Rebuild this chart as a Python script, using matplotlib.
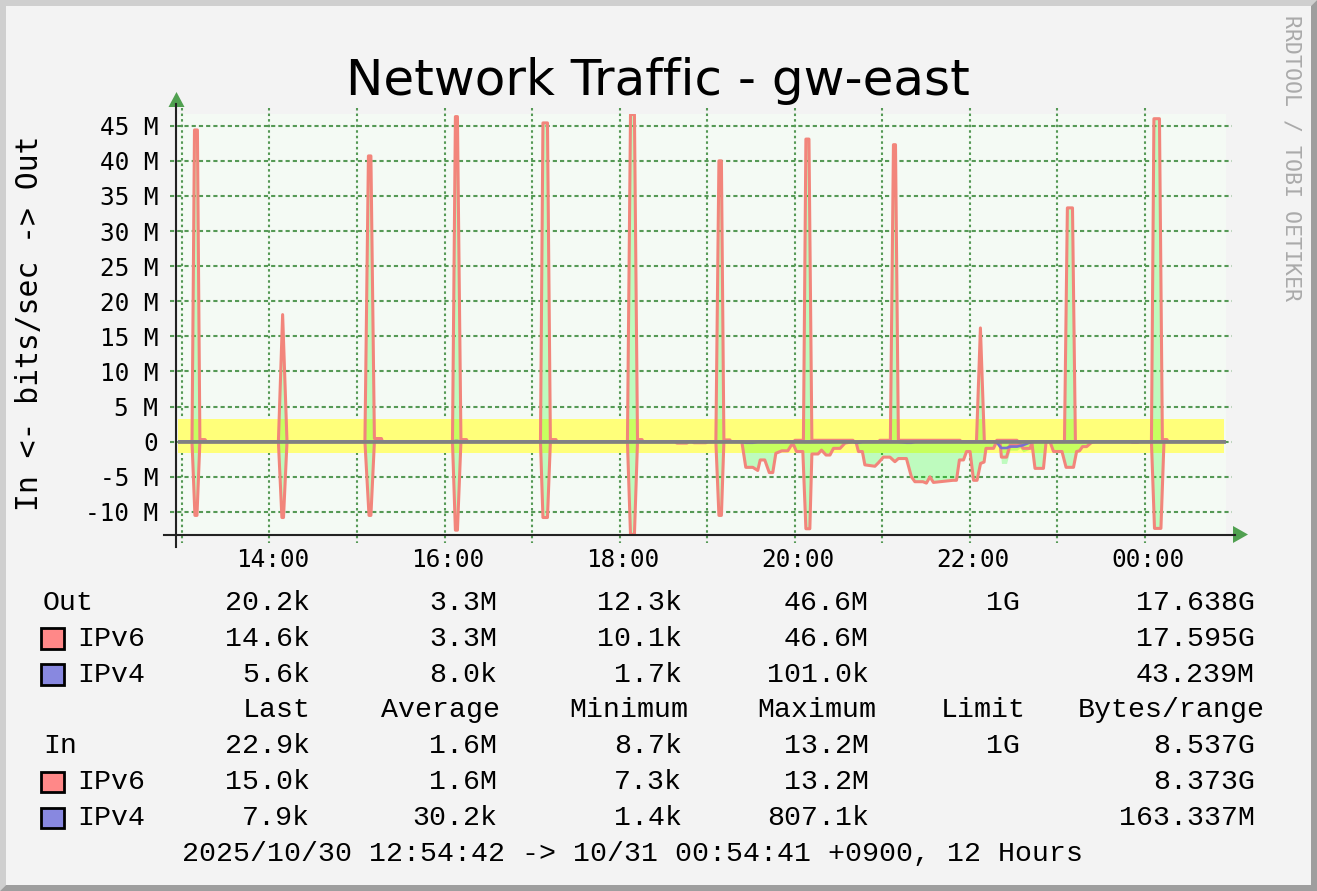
import numpy as np
import matplotlib
matplotlib.use("Agg")
import matplotlib.pyplot as plt
from matplotlib.patches import Polygon, Rectangle
from matplotlib.lines import Line2D
from matplotlib.transforms import ScaledTranslation

W, H = 1317, 891

# time in minutes after 12:00 (10/30), traffic in Mbit/s
out_t = [57.3, 66.9, 68.6, 70.6, 72.3, 75.8, 76.8,
         126.1, 129.0, 132.0,
         185.4, 187.8, 189.5, 191.9, 196.7, 197.4,
         245.4, 247.4, 248.8, 251.2, 255.0, 255.7,
         305.7, 307.4, 310.5, 312.5, 316.3, 317.0,
         365.3, 367.4, 370.1, 372.2, 375.3, 375.9,
         425.9, 428.0, 429.7, 431.4, 435.5, 436.2,
         479.4, 480.1, 485.9, 487.6, 489.7, 491.7, 519.8, 520.5,
         537.6, 538.3, 545.5, 547.6, 549.0, 551.0, 593.2, 593.9,
         604.5, 607.2, 609.9, 617.8, 618.5, 632.2, 632.9,
         664.8, 666.8, 670.3, 672.3,
         724.4, 726.1, 729.9, 731.9, 735.0, 735.7, 774.1]
out_v6 = [0.02, 0.02, 44.4, 44.4, 0.3, 0.3, 0.02,
          0.02, 18.1, 0.02,
          0.02, 40.7, 40.7, 0.45, 0.45, 0.02,
          0.02, 46.3, 46.3, 0.3, 0.3, 0.02,
          0.02, 45.4, 45.4, 0.3, 0.3, 0.02,
          0.02, 46.6, 46.6, 0.3, 0.3, 0.02,
          0.02, 40.0, 40.0, 0.25, 0.25, 0.02,
          0.02, 0.2, 0.2, 43.1, 43.1, 0.2, 0.2, 0.02,
          0.02, 0.2, 0.2, 42.3, 42.3, 0.2, 0.2, 0.02,
          0.02, 16.2, 0.02, 0.02, 0.2, 0.2, 0.02,
          0.02, 33.3, 33.3, 0.02,
          0.02, 46.0, 46.0, 0.3, 0.3, 0.02, 0.02]
out_v4 = [0.006, 0.006, 0.01, 0.01, 0.006, 0.006, 0.006,
          0.006, 0.01, 0.006,
          0.006, 0.01, 0.01, 0.006, 0.006, 0.006,
          0.006, 0.1, 0.1, 0.006, 0.006, 0.006,
          0.006, 0.01, 0.01, 0.006, 0.006, 0.006,
          0.006, 0.01, 0.01, 0.006, 0.006, 0.006,
          0.006, 0.01, 0.01, 0.006, 0.006, 0.006,
          0.006, 0.006, 0.006, 0.01, 0.01, 0.006, 0.006, 0.006,
          0.006, 0.006, 0.006, 0.01, 0.01, 0.006, 0.006, 0.006,
          0.006, 0.01, 0.006, 0.006, 0.006, 0.006, 0.006,
          0.006, 0.01, 0.01, 0.006,
          0.006, 0.01, 0.01, 0.006, 0.006, 0.006, 0.006]

in_t = [57.3, 66.9, 68.9, 70.3, 72.3,
        126.1, 128.5, 129.6, 132.0,
        185.4, 188.2, 189.5, 191.9,
        245.4, 247.4, 248.8, 251.2,
        305.7, 307.4, 310.5, 312.5,
        365.3, 367.4, 370.1, 372.2,
        397.9, 399.2, 406.1, 407.4, 409.5, 410.9, 419.1, 420.5,
        425.9, 428.0, 429.7, 431.4,
        443.7, 446.4, 451.2, 454.6, 456.3, 459.4, 462.5, 464.9, 467.0,
        471.1, 475.2, 477.6, 479.3, 481.1, 485.5, 487.6, 490.3,
        491.7, 495.9, 498.3, 501.4, 504.1, 506.5, 511.0, 514.4, 519.8,
        521.9, 523.6, 526.3, 528.0, 534.9, 537.3, 540.7, 545.2, 548.6,
        551.0, 556.5, 559.9, 562.3, 567.8, 570.2, 572.6, 575.0, 588.4,
        590.8, 592.8, 595.6, 597.7, 600.1, 602.5, 604.9, 607.3, 609.7,
        611.0, 616.2, 618.2, 620.6, 621.6, 625.1, 627.5, 632.3, 634.3,
        636.4, 641.2, 642.5, 644.6, 650.4, 652.2, 654.9, 657.3, 663.1,
        665.9, 671.0, 673.1, 675.1, 677.2, 680.0, 683.4, 685.7,
        710.4, 711.1, 715.2, 715.9,
        724.4, 726.5, 730.9, 733.0, 774.1]
in_v6 = [-0.01, -0.01, -10.5, -10.5, -0.01,
         -0.01, -10.8, -10.8, -0.01,
         -0.01, -10.5, -10.5, -0.01,
         -0.01, -12.6, -12.6, -0.01,
         -0.01, -10.8, -10.8, -0.01,
         -0.01, -13.2, -13.2, -0.01,
         -0.01, -0.2, -0.2, -0.01, -0.01, -0.15, -0.15, -0.01,
         -0.01, -10.5, -10.5, -0.01,
         -0.01, -3.65, -3.65, -4.1, -2.6, -2.6, -4.4, -4.4, -1.65,
         -1.3, -1.3, -0.5, -0.5, -1.4, -1.4, -12.4, -12.4,
         -1.75, -1.75, -1.2, -1.9, -1.9, -0.95, -0.95, -0.2, -0.01,
         -0.01, -1.4, -1.4, -3.3, -3.5, -3.0, -2.2, -2.2, -2.85,
         -2.4, -2.4, -5.0, -5.7, -5.7, -5.9, -5.0, -5.8, -5.5,
         -5.5, -2.6, -2.6, -1.4, -1.4, -5.5, -5.5, -3.1, -2.9,
         -0.95, -0.95, -0.01, -0.01, -2.2, -2.2, -0.5, -0.5, -0.3,
         -0.95, -0.95, -0.2, -3.8, -3.8, -0.01, -0.01, -1.4, -1.4,
         -3.65, -3.65, -1.4, -1.3, -0.7, -0.7, -0.1, -0.01,
         -0.01, -0.1, -0.1, -0.01,
         -0.01, -12.35, -12.35, -0.01, -0.01]
in_v4 = [-0.005, -0.005, -0.01, -0.01, -0.005,
         -0.005, -0.01, -0.01, -0.005,
         -0.005, -0.01, -0.01, -0.005,
         -0.005, -0.01, -0.01, -0.005,
         -0.005, -0.01, -0.01, -0.005,
         -0.005, -0.01, -0.01, -0.005,
         -0.005, -0.005, -0.005, -0.005, -0.005, -0.005, -0.005, -0.005,
         -0.005, -0.01, -0.01, -0.005,
         -0.005, -0.15, -0.15, -0.005, -0.005, -0.005, -0.005, -0.005, -0.005,
         -0.005, -0.005, -0.005, -0.005, -0.005, -0.005, -0.01, -0.01,
         -0.005, -0.005, -0.005, -0.005, -0.005, -0.005, -0.005, -0.005, -0.005,
         -0.15, -0.15, -0.005, -0.005, -0.005, -0.005, -0.005, -0.005, -0.005,
         -0.005, -0.15, -0.15, -0.005, -0.005, -0.005, -0.005, -0.005, -0.005,
         -0.005, -0.005, -0.005, -0.005, -0.005, -0.005, -0.005, -0.005, -0.005,
         -0.005, -0.005, -0.005, -0.7, -0.9, -0.9, -0.7, -0.7, -0.6,
         -0.5, -0.1, -0.005, -0.005, -0.005, -0.005, -0.005, -0.005, -0.005,
         -0.005, -0.005, -0.005, -0.005, -0.005, -0.005, -0.005, -0.005,
         -0.005, -0.005, -0.005, -0.005,
         -0.005, -0.01, -0.01, -0.005, -0.005]

out_avg = 3.3
in_avg = 1.6

y_ticks = [-10, -5, 0, 5, 10, 15, 20, 25, 30, 35, 40, 45]
hour_grid = [60, 120, 180, 240, 300, 360, 420, 480, 540, 600, 660, 720]
hour_ticks = [120, 240, 360, 480, 600, 720]
hour_labels = ["14:00", "16:00", "18:00", "20:00", "22:00", "00:00"]

legend_head = ["Last", "Average", "Minimum", "Maximum", "Limit", "Bytes/range"]
out_total = ["20.2k", "3.3M", "12.3k", "46.6M", "1G", "17.638G"]
out_ipv6 = ["14.6k", "3.3M", "10.1k", "46.6M", "", "17.595G"]
out_ipv4 = ["5.6k", "8.0k", "1.7k", "101.0k", "", "43.239M"]
in_total = ["22.9k", "1.6M", "8.7k", "13.2M", "1G", "8.537G"]
in_ipv6 = ["15.0k", "1.6M", "7.3k", "13.2M", "", "8.373G"]
in_ipv4 = ["7.9k", "30.2k", "1.4k", "807.1k", "", "163.337M"]
period = "2025/10/30 12:54:42 -> 10/31 00:54:41 +0900, 12 Hours"

c_v6 = "#f2857b"
c_v4 = "#7b70d0"
c_grid = "#559955"
c_arrow = "#50a050"

plt.rcParams["font.family"] = "DejaVu Sans Mono"
plt.rcParams["lines.scale_dashes"] = False


def fx(x):
    return x / W


def fy(y):
    return 1 - y / H


fig = plt.figure(figsize=(W / 100, H / 100), dpi=100, facecolor="#f3f3f3")

# 3d frame
fig.add_artist(Polygon([(fx(0), fy(0)), (fx(W), fy(0)), (fx(W - 6), fy(6)), (fx(6), fy(6)),
                        (fx(6), fy(H - 6)), (fx(0), fy(H))],
                       closed=True, transform=fig.transFigure, color="#cfcfcf", lw=0))
fig.add_artist(Polygon([(fx(W), fy(0)), (fx(W), fy(H)), (fx(0), fy(H)), (fx(6), fy(H - 6)),
                        (fx(W - 6), fy(H - 6)), (fx(W - 6), fy(6))],
                       closed=True, transform=fig.transFigure, color="#9e9e9e", lw=0))

ax = fig.add_axes([fx(178), fy(535), 1048 / W, 421 / H])
ax.set_facecolor("#f4faf4")
ax.set_xlim(57.3, 775.5)
ax.set_ylim(-13.29, 46.67)
for s in ax.spines.values():
    s.set_visible(False)

# grid, drawn a bit past the plot area like rrdtool does
for v in y_ticks:
    ax.plot([-0.0076, 1.0057], [v, v], transform=ax.get_yaxis_transform(), clip_on=False,
            color=c_grid, lw=1.5, ls=(0, (3.0, 2.2)), zorder=1)
for t in hour_grid:
    ax.plot([t, t], [1.0143, -0.019], transform=ax.get_xaxis_transform(), clip_on=False,
            color=c_grid, lw=1.5, ls=(0, (1.8, 2.2)), zorder=1)

# average band
ax.fill_between([out_t[0], out_t[-1]], -in_avg, out_avg, color="#ffff7a", lw=0, zorder=2)

out_sum = np.add(out_v6, out_v4)
in_sum = np.add(in_v6, in_v4)
ax.fill_between(out_t, 0, out_sum, color="#00ff00", alpha=0.22, lw=0, zorder=3)
ax.fill_between(in_t, 0, in_sum, color="#00ff00", alpha=0.22, lw=0, zorder=3)

ax.plot(out_t, out_v6, color=c_v6, lw=2.2, zorder=4)
ax.plot(in_t, in_v6, color=c_v6, lw=2.2, zorder=4)
ax.plot(out_t, out_v4, color=c_v4, lw=1.9, zorder=4.5)
ax.plot(in_t, in_v4, color=c_v4, lw=1.9, zorder=4.5)

ax.axhline(0, color="#808080", lw=2.6, zorder=5)

ax.set_yticks(y_ticks, [f"{v} M" if v else "0" for v in y_ticks])
ax.set_xticks(hour_ticks, hour_labels)
ax.tick_params(axis="y", length=0, pad=14.4, labelsize=17.6)
ax.tick_params(axis="x", length=0, pad=9.4, labelsize=17.6)
shift = ScaledTranslation(3 / 100, 0, fig.dpi_scale_trans)
for lbl in ax.get_xticklabels():
    lbl.set_transform(lbl.get_transform() + shift)

# axes with arrows
fig.add_artist(Line2D([fx(176), fx(176)], [fy(547), fy(104)], transform=fig.transFigure,
                      color="#222222", lw=1.5))
fig.add_artist(Line2D([fx(164), fx(1235)], [fy(535), fy(535)], transform=fig.transFigure,
                      color="#222222", lw=1.5))
fig.add_artist(Polygon([(fx(176.5), fy(92)), (fx(168.5), fy(107)), (fx(184.5), fy(107))],
                       closed=True, transform=fig.transFigure, color=c_arrow, lw=0))
fig.add_artist(Polygon([(fx(1248), fy(534.5)), (fx(1233), fy(526)), (fx(1233), fy(543))],
                       closed=True, transform=fig.transFigure, color=c_arrow, lw=0))

fig.text(fx(658), fy(95), "Network Traffic - gw-east", ha="center", va="baseline",
         fontsize=36, family="DejaVu Sans")
fig.text(fx(30), fy(323.5), "In <- bits/sec -> Out", rotation=90, ha="center", va="center",
         fontsize=21.4)
fig.text(fx(1292), fy(15), "RRDTOOL / TOBI OETIKER", rotation=270, ha="center", va="top",
         fontsize=15.5, color="#aaaaaa")

# legend
col_x = [310, 497, 682, 869, 1020, 1255]
head_x = [311, 500, 688, 876, 1026, 1265]
lg = dict(fontsize=20.3, family="Liberation Mono", va="baseline")


def legend_row(y, label, vals, color=None):
    if color is None:
        fig.text(fx(43), fy(y), label, ha="left", **lg)
    else:
        fig.add_artist(Rectangle((fx(41.4), fy(y + 3)), 22.4 / W, 20.4 / H,
                                 transform=fig.transFigure, facecolor=color,
                                 edgecolor="black", lw=2.0))
        fig.text(fx(77), fy(y), label, ha="left", **lg)
    for x, v in zip(col_x, vals):
        if v:
            fig.text(fx(x), fy(y), v, ha="right", **lg)


legend_row(610, "Out", out_total)
legend_row(645.7, "IPv6", out_ipv6, "#ff8888")
legend_row(681.7, "IPv4", out_ipv4, "#8888e0")
for x, h in zip(head_x, legend_head):
    fig.text(fx(x), fy(717.3), h, ha="right", **lg)
legend_row(753, "In", in_total)
legend_row(789, "IPv6", in_ipv6, "#ff8888")
legend_row(825, "IPv4", in_ipv4, "#8888e0")
fig.text(fx(182), fy(861.5), period, ha="left", **lg)

fig.savefig("out.png", dpi=100, facecolor=fig.get_facecolor())
